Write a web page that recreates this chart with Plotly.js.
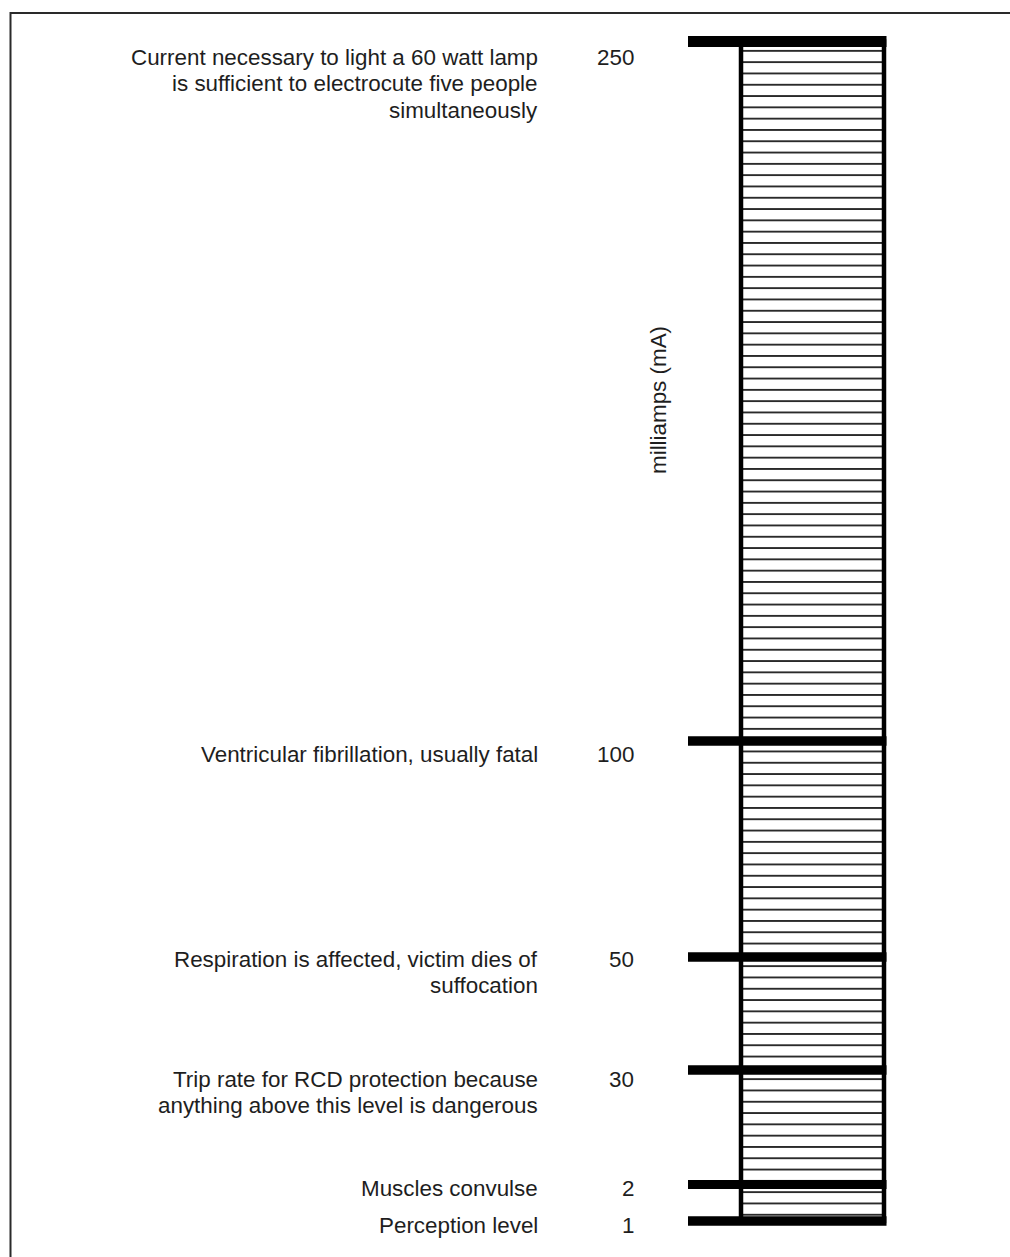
<!DOCTYPE html>
<html>
<head>
<meta charset="utf-8">
<script src="https://cdn.plot.ly/plotly-3.0.1.min.js"></script>
<style>
  html, body { margin: 0; padding: 0; background: #ffffff; }
  #chart { width: 1010px; height: 1257px; }
</style>
</head>
<body>
<div id="chart"></div>
<script>
// ---- Data ----
const levels = [250, 100, 50, 30, 2, 1];          // current in mA
const effects = [
  ["Current necessary to light a 60 watt lamp", "is sufficient to electrocute five people", "simultaneously"],
  ["Ventricular fibrillation, usually fatal"],
  ["Respiration is affected, victim dies of", "suffocation"],
  ["Trip rate for RCD protection because", "anything above this level is dangerous"],
  ["Muscles convulse"],
  ["Perception level"]
];
const unitLabel = "milliamps (mA)";

// ---- Layout of the schematic (the scale is not proportional) ----
const W = 1010, H = 1257;
const rungY = [41.5, 741, 957, 1070, 1184.5, 1221];   // schematic position of each level (top-down units)
const rungWidth = [11, 9.5, 9.5, 9.5, 9, 9.5];
const textDy = [15.5, 13.5, 2, 9, 3.5, 4];            // label first-line offset from its rung
const lineGap = 26.5;
const barLeft = 741, barRight = 884, rungStart = 688, rungEnd = 886.5;
const numRight = 635.5, labelRight = 539.5;
const textColor = "#1e1e1e";
const fontFam = "Liberation Sans, Arial, Helvetica, sans-serif";
const fontSize = 22.4;

const topY = rungY[levels.indexOf(Math.max(...levels))];
const botY = rungY[levels.indexOf(Math.min(...levels))];

const bar = {
  type: "bar",
  x: [(barLeft + barRight) / 2],
  base: [topY],
  y: [botY - topY],
  width: [barRight - barLeft],
  marker: {
    color: "#ffffff",
    line: { color: "#000000", width: 4.5 },
    pattern: { shape: "-", size: 11.3, solidity: 0.15, fgcolor: "#111111", fgopacity: 1,
               bgcolor: "#ffffff", fillmode: "overlay" }
  },
  hoverinfo: "skip",
  showlegend: false
};

const shapes = [];
// outer frame (clipped by the page on the right and bottom)
shapes.push({ type: "rect", xref: "x", yref: "y", x0: 10.5, x1: W + 20, y0: 13, y1: H + 20,
  line: { color: "#2a2a2a", width: 2 }, fillcolor: "rgba(0,0,0,0)", layer: "below" });
levels.forEach((v, i) => {
  shapes.push({ type: "line", xref: "x", yref: "y", x0: rungStart, x1: rungEnd, y0: rungY[i], y1: rungY[i],
    line: { color: "#000000", width: rungWidth[i] }, layer: "above" });
});

const annotations = [];
levels.forEach((v, i) => {
  const y0 = rungY[i] + textDy[i];
  annotations.push({ xref: "x", yref: "y", x: numRight, y: y0, text: String(v), showarrow: false,
    xanchor: "right", yanchor: "middle", font: { family: fontFam, size: fontSize, color: textColor } });
  effects[i].forEach((line, k) => {
    annotations.push({ xref: "x", yref: "y", x: labelRight, y: y0 + k * lineGap, text: line, showarrow: false,
      xanchor: "right", yanchor: "middle", font: { family: fontFam, size: fontSize, color: textColor } });
  });
});
annotations.push({ xref: "x", yref: "y", x: 658, y: 400, text: unitLabel, showarrow: false, textangle: -90,
  xanchor: "center", yanchor: "middle", font: { family: fontFam, size: fontSize, color: textColor } });

const layout = {
  width: W, height: H,
  margin: { l: 0, r: 0, t: 0, b: 0, pad: 0 },
  paper_bgcolor: "#ffffff", plot_bgcolor: "#ffffff",
  xaxis: { range: [0, W], visible: false, fixedrange: true },
  yaxis: { range: [H, 0], visible: false, fixedrange: true },
  shapes: shapes,
  annotations: annotations,
  showlegend: false,
  bargap: 0
};

Plotly.newPlot("chart", [bar], layout, { staticPlot: true, displayModeBar: false });
</script>
</body>
</html>
